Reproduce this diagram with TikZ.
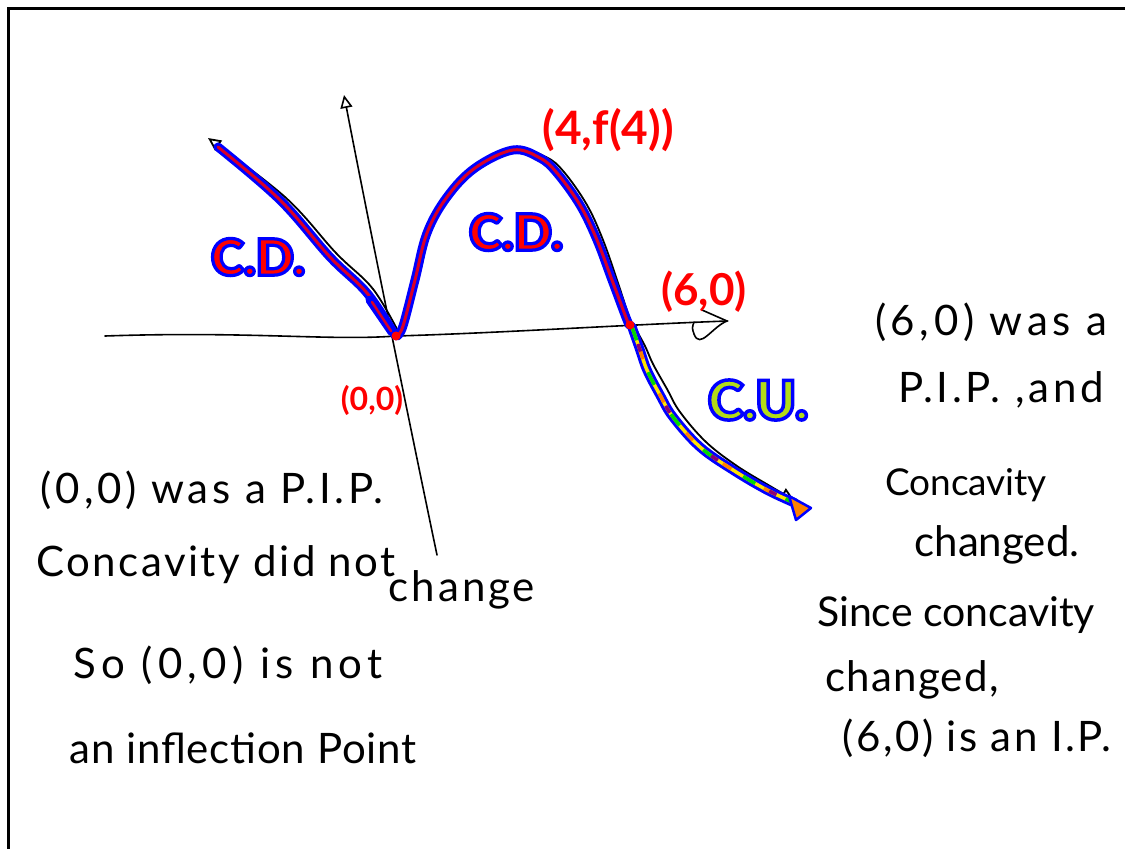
\documentclass[tikz,border=0pt]{standalone}
\usepackage{fontspec}
\setmainfont{Lato}
\IfFontExistsTF{Lato Black}
  {\newfontfamily\inkfont[FakeBold=6.5]{Lato Black}}
  {\newfontfamily\inkfont[FakeBold=6]{Lato Bold}}
\usetikzlibrary{arrows.meta,positioning}
% red letters drawn with a blue rim
\newcommand\inked[2]{{\color{#1}\special{pdf:literal direct 0 0 1 RG}\inkfont #2}}

\begin{document}
\begin{tikzpicture}[x=1pt,y=-1pt,>={Triangle[open,length=13pt,width=12pt]},
  every node/.style={inner sep=0pt},
  note/.style 2 args={black,font=\fontsize{#1}{#1}\selectfont\addfontfeature{LetterSpace=#2}},
  ptlabel/.style={red,font=\fontsize{#1}{#1}\selectfont\bfseries},
  conc/.style={font=\fontsize{#1}{#1}\selectfont},
  axis/.style={black,line width=1.6pt,line cap=round},
  shadow/.style={black,line width=1.8pt},
  curve/.style={blue,line width=3pt,double=red!85!blue,double distance=3pt,line cap=round,line join=round},
  tailout/.style={blue,line width=9.5pt,line cap=round},
  tailin/.style={yellow!85!orange,line width=3.5pt,line cap=round},
  tailg/.style={green!85!black,line width=3.5pt,dash pattern=on 14pt off 34pt},
  tailo/.style={orange,line width=3.5pt,dash pattern=on 10pt off 38pt,dash phase=24pt},
  tailp/.style={red!55!blue,line width=3.5pt,dash pattern=on 8pt off 60pt,dash phase=50pt}]
\useasboundingbox (0,0) rectangle (1125,849);
\fill[white] (0,0) rectangle (1125,849);
% frame
\draw[line width=3pt] (8,849) -- (8,8) -- (1125,8);

% key points
\coordinate (O) at (396,336);
\coordinate (S) at (630,325);

% axes
\draw[axis] (105,336) .. controls (250,331) and (330,341) .. (O) .. controls (500,333) and (620,325) .. (727,321);
\draw[axis] (702,310) -- (727,321) .. controls (712,327) and (700,350) .. (694,334) .. controls (692,328) .. (694,322);
\draw[axis,->] (437,555) .. controls (415,450) and (370,230) .. (344,95);

% pencil curve underneath
\draw[shadow,->] plot[smooth,tension=0.6] coordinates {(399,333) (373,289) (336,253) (285,197) (208,138)};
\draw[shadow] plot[smooth,tension=0.6] coordinates {(400,334) (418,280) (430,233) (450,196) (478,166) (516,149) (546,157) (564,172) (587,205) (603,240) (617,280) (630,320)};
\draw[shadow,->] plot[smooth,tension=0.6] coordinates {(634,326) (645,346) (653,364) (667,389) (680,412) (706,442) (737,466) (770,486) (794,500)};

% coloured curve
\draw[curve] plot[smooth,tension=0.6] coordinates {(395,335) (367,293) (330,257) (280,200) (218,147)};
\draw[blue,line width=9pt,line cap=round] (370,300) -- (392,332);
\draw[red!85!blue,line width=2.5pt,line cap=round] (372,302) -- (391,331);
\draw[curve] plot[smooth,tension=0.6] coordinates {(397,336) (403,326) (415,280) (427,233) (447,197) (475,168) (513,150) (540,158) (557,173) (580,205) (597,240) (612,280) (627,320) (630,325)};
\foreach \st in {tailout,tailin,tailg,tailo,tailp}
  \draw[\st] plot[smooth,tension=0.6] coordinates {(632,327) (640,350) (647,370) (660,395) (673,417) (700,447) (733,470) (767,490) (795,503)};
\filldraw[blue,fill=orange,line width=2.5pt,line join=round] (811,508) -- (789,496) -- (796,520) -- cycle;
\fill[red] (O) circle (4.5pt) (S) circle (4.5pt);

% curve labels
\node[ptlabel=46] (peak) at (608,130) {(4,f(4))};
\node[ptlabel=44] (six) at (704,292) {(6,0)};
\node[ptlabel=32] (zero) at (372,400) {(0,0)};
\node[conc=50] (cdl) at (258,257) {\inked{red}{C.D.}};
\node[conc=50] (cdm) at (516,232) {\inked{red}{C.D.}};
\node[conc=54] (cu) at (758,400) {\inked{yellow!70!green}{C.U.}};

% notes on (0,0)
\node[note={42}{9}] (l1) at (212,490) {(0,0) was a P.I.P.};
\node[note={42}{6}] (l2) at (216,565) {Concavity did not};
\node[note={42}{7}] (l3) at (462,590) {change};
\node[note={42}{13}] (l4) at (228,665) {So (0,0) is not};
\node[note={42}{2}] (l5) at (243,748) {an inflection Point};

% notes on (6,0)
\node[note={42}{11}] (r1) at (991,322) {(6,0) was a};
\node[note={42}{9}] (r2) at (1001,390) {P.I.P. ,and};
\node[note={37}{0}] (r3) at (966,485) {Concavity};
\node[note={42}{0}] (r4) at (997,545) {changed.};
\node[note={41}{0}] (r5) at (956,615) {Since concavity};
\node[note={42}{3}] (r6) at (912,680) {changed,};
\node[note={42}{6}] (r7) at (977,738) {(6,0) is an I.P.};
\end{tikzpicture}
\end{document}
